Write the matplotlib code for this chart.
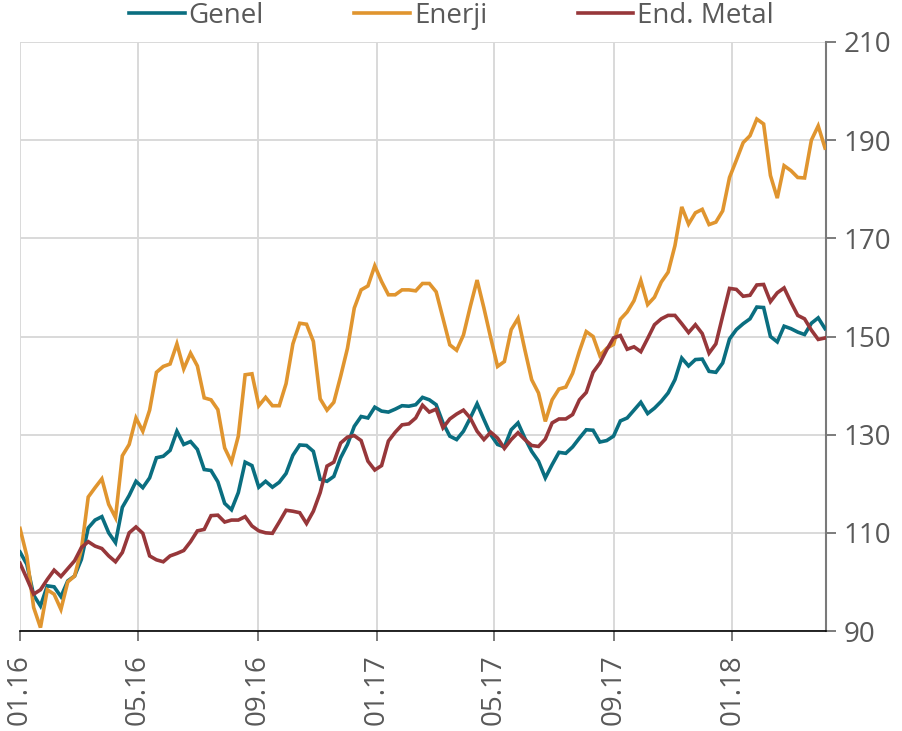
import matplotlib
matplotlib.use("Agg")
import matplotlib.pyplot as plt
import matplotlib.dates as mdates
import pandas as pd
from matplotlib import font_manager

# ---------------- data ----------------
start_date = "2016-01-01"
n_weeks = 119

genel = [106.1, 103.6, 97.3, 95.1, 99.2, 99.0, 97.0, 100.2, 101.2, 104.6,
         111.0, 112.6, 113.3, 110.0, 108.0, 115.2, 117.6, 120.5, 119.2, 121.2,
         125.3, 125.6, 126.8, 130.7, 128.0, 128.6, 127.0, 122.9, 122.7, 120.4,
         116.0, 114.7, 118.2, 124.4, 123.7, 119.3, 120.5, 119.3, 120.3, 122.1,
         125.8, 127.9, 127.8, 126.6, 120.9, 120.5, 121.5, 125.3, 128.0, 131.7,
         133.7, 133.4, 135.6, 134.8, 134.6, 135.2, 135.9, 135.8, 136.1, 137.6,
         137.1, 136.1, 132.4, 129.7, 129.0, 130.7, 133.4, 136.3, 133.1, 130.0,
         128.0, 127.5, 131.0, 132.4, 129.3, 126.6, 124.6, 121.2, 123.9, 126.4,
         126.2, 127.5, 129.3, 131.0, 130.9, 128.5, 128.8, 129.7, 132.8, 133.4,
         135.0, 136.6, 134.3, 135.4, 136.8, 138.5, 141.2, 145.6, 144.0, 145.3,
         145.4, 142.9, 142.7, 144.6, 149.5, 151.4, 152.6, 153.6, 156.0, 155.9,
         150.0, 148.9, 152.1, 151.6, 150.9, 150.4, 152.7, 153.8, 151.6]

enerji = [110.9, 105.3, 94.8, 90.7, 98.4, 97.5, 94.4, 100.0, 101.2, 106.6,
          117.3, 119.2, 121.0, 115.8, 113.1, 125.7, 128.0, 133.4, 130.7, 135.0,
          142.7, 143.9, 144.4, 148.5, 143.4, 146.6, 144.0, 137.5, 137.1, 135.1,
          127.3, 124.4, 129.7, 142.2, 142.4, 135.9, 137.6, 135.9, 135.9, 140.4,
          148.5, 152.7, 152.5, 149.0, 137.3, 135.0, 136.6, 141.9, 147.6, 155.8,
          159.5, 160.3, 164.4, 161.2, 158.5, 158.5, 159.5, 159.5, 159.3, 160.8,
          160.8, 159.1, 153.7, 148.3, 147.2, 150.3, 156.1, 161.5, 155.8, 149.7,
          143.9, 144.9, 151.4, 153.7, 147.3, 141.2, 138.5, 132.7, 137.1, 139.3,
          139.7, 142.5, 147.0, 151.0, 150.0, 146.1, 147.6, 148.4, 153.5, 155.0,
          157.3, 161.4, 156.5, 158.0, 161.1, 163.1, 168.5, 176.4, 172.9, 175.2,
          175.9, 172.8, 173.3, 175.6, 182.4, 185.9, 189.5, 190.9, 194.3, 193.3,
          182.8, 178.2, 184.8, 183.8, 182.4, 182.3, 190.0, 192.9, 188.4]

end_metal = [103.8, 100.7, 97.5, 98.4, 100.5, 102.4, 101.1, 102.7, 104.3, 107.0,
             108.2, 107.3, 106.8, 105.3, 104.1, 106.0, 110.0, 111.2, 109.9, 105.3,
             104.5, 104.1, 105.3, 105.8, 106.4, 108.2, 110.4, 110.7, 113.5, 113.6,
             112.2, 112.6, 112.6, 113.3, 111.4, 110.4, 110.0, 109.9, 112.2, 114.6,
             114.4, 114.1, 111.9, 114.4, 118.2, 123.6, 124.4, 128.3, 129.5, 129.8,
             128.8, 124.6, 122.8, 123.7, 128.7, 130.5, 132.0, 132.2, 133.4, 136.0,
             134.6, 135.2, 131.4, 133.2, 134.2, 135.0, 133.4, 130.7, 129.0, 130.5,
             129.3, 127.2, 129.0, 130.4, 129.0, 127.8, 127.6, 129.1, 132.4, 133.2,
             133.2, 134.1, 137.1, 138.6, 142.7, 144.6, 147.3, 149.7, 150.2, 147.4,
             147.9, 146.9, 149.6, 152.4, 153.6, 154.3, 154.3, 152.6, 150.8, 152.4,
             150.6, 146.6, 148.5, 154.2, 159.8, 159.6, 158.2, 158.4, 160.5, 160.6,
             157.1, 158.9, 159.9, 157.0, 154.3, 153.6, 151.3, 149.4, 149.7]

series_names = ["Genel", "Enerji", "End. Metal"]
series_colors = ["#0A6E80", "#E0952F", "#97373A"]
tick_dates = ["2016-01-01", "2016-05-01", "2016-09-01", "2017-01-01",
              "2017-05-01", "2017-09-01", "2018-01-01"]
y_ticks = [90, 110, 130, 150, 170, 190, 210]

# ---------------- style ----------------
available = {f.name for f in font_manager.fontManager.ttflist}
family = "Open Sans" if "Open Sans" in available else "DejaVu Sans"
plt.rcParams["font.family"] = [family, "DejaVu Sans"]
text_gray = "#595959"

dates = pd.date_range(start_date, periods=n_weeks, freq="7D")

fig = plt.figure(figsize=(9.03, 7.31), dpi=100)
ax = fig.add_axes([20 / 903, 1 - 631 / 731, (826 - 20) / 903, (631 - 42) / 731])

handles = []
for vals, name, col in zip([genel, enerji, end_metal], series_names, series_colors):
    h, = ax.plot(dates, vals, color=col, lw=2.6, label=name,
                 solid_joinstyle="miter", zorder=3)
    handles.append(h)

ax.set_ylim(90, 210)
ax.set_yticks(y_ticks)
ax.set_xlim(pd.Timestamp(start_date), pd.Timestamp(start_date) + pd.Timedelta(days=827))
ax.set_xticks(pd.to_datetime(tick_dates))
ax.xaxis.set_major_formatter(mdates.DateFormatter("%m.%y"))

ax.yaxis.tick_right()
ax.tick_params(axis="y", which="both", direction="out", length=7.5, width=1.1,
               color=text_gray, pad=5, labelsize=20, labelcolor=text_gray,
               left=False, right=True)
ax.tick_params(axis="x", direction="out", length=7.5, width=1.1, color=text_gray,
               pad=9, labelsize=20, labelcolor=text_gray, labelrotation=90)

ax.grid(True, color="#D9D9D9", lw=1.4, zorder=0)
ax.set_axisbelow(True)

for s in ["left", "top"]:
    ax.spines[s].set_visible(False)
ax.spines["right"].set_color("#7A7A7A")
ax.spines["right"].set_linewidth(1.5)
ax.spines["bottom"].set_color("#000000")
ax.spines["bottom"].set_linewidth(1.2)

fig.legend(handles=handles, labels=series_names, loc="center",
           bbox_to_anchor=(451.5 / 903, 1 - 16 / 731), ncol=3, frameon=False,
           fontsize=20, labelcolor=text_gray, handlelength=2.0,
           handletextpad=0.15, columnspacing=3.25, borderpad=0, borderaxespad=0)

fig.savefig("out.png", dpi=100)
